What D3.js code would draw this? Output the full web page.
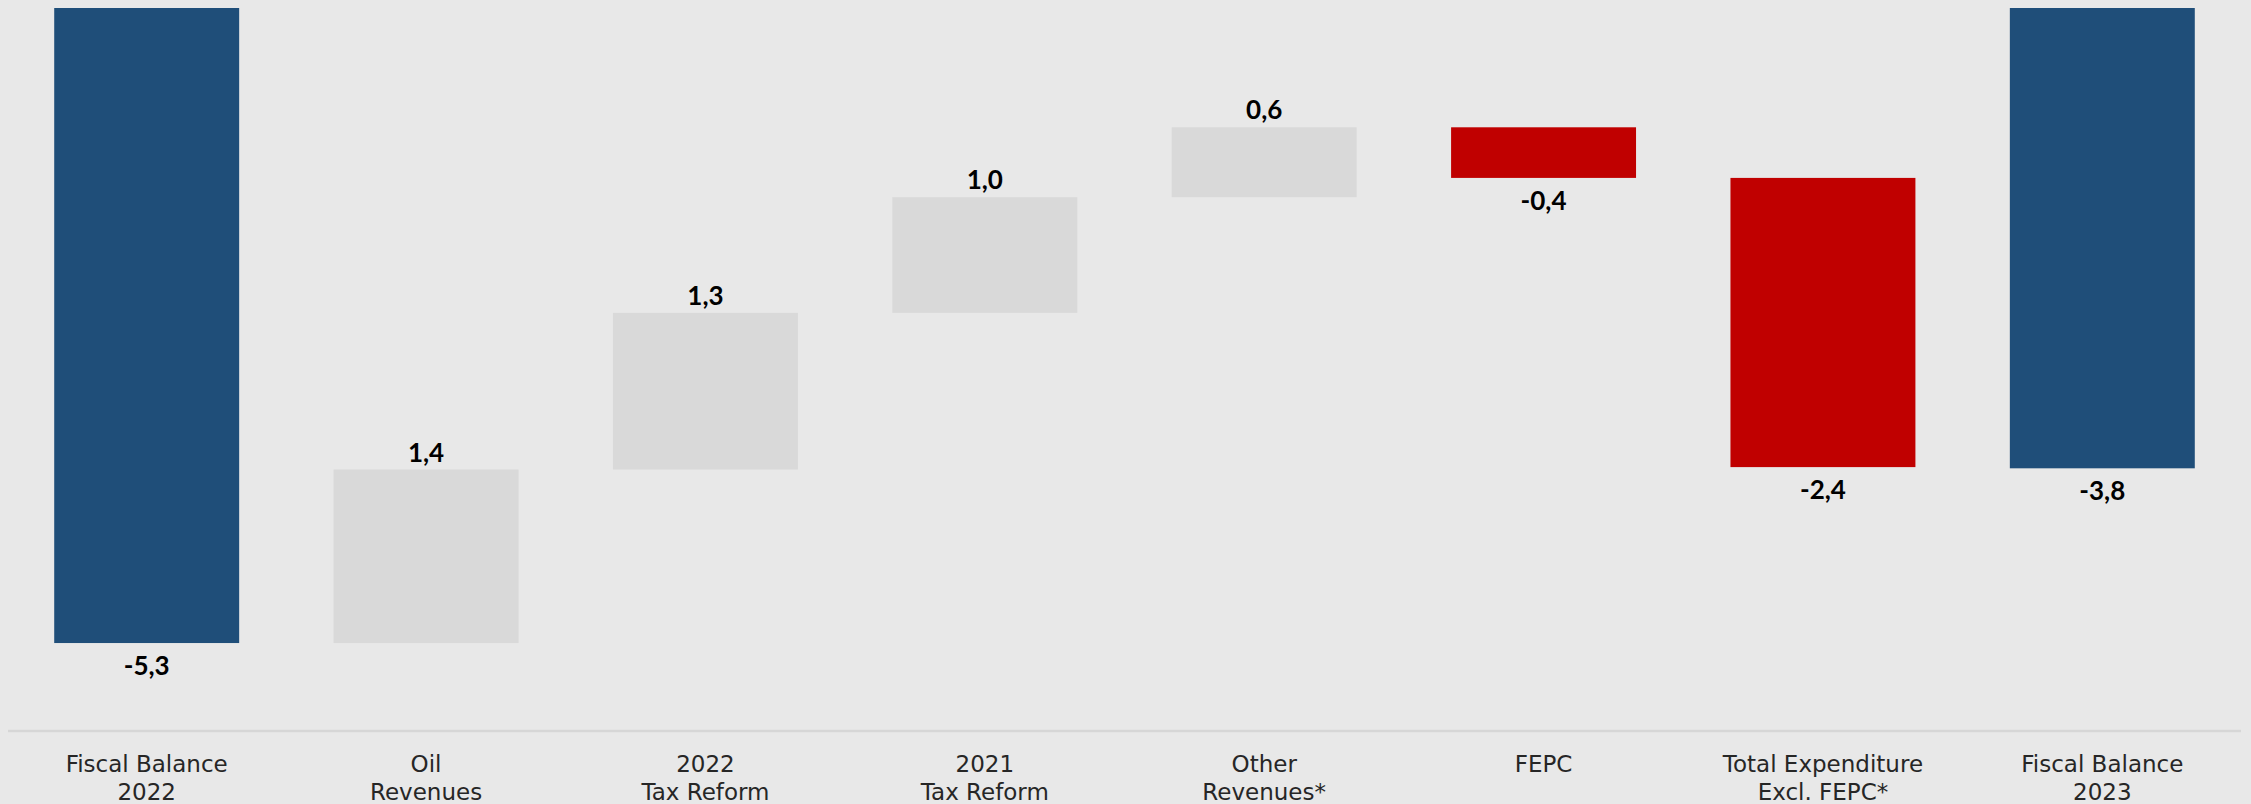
<!DOCTYPE html>
<html>
<head>
<meta charset="utf-8">
<script src="https://cdn.jsdelivr.net/npm/d3@7"></script>
<style>
  html, body { margin: 0; padding: 0; background: #e8e8e8; }
  svg { display: block; }
</style>
</head>
<body>
<svg id="chart" width="2251" height="804"></svg>
<script>
// ---- data ----
const categories = [
  ["Fiscal Balance", "2022"],
  ["Oil", "Revenues"],
  ["2022", "Tax Reform"],
  ["2021", "Tax Reform"],
  ["Other", "Revenues*"],
  ["FEPC", ""],
  ["Total Expenditure", "Excl. FEPC*"],
  ["Fiscal Balance", "2023"]
];
const values = [-5.27, 1.44, 1.30, 0.96, 0.58, -0.42, -2.40, -3.82];
const kinds = ["total", "delta", "delta", "delta", "delta", "delta", "delta", "total"];
const yTicks = [-6, 0];

// ---- layout ----
const W = 2251, H = 804;
const svg = d3.select("#chart");
svg.append("rect").attr("width", W).attr("height", H).attr("fill", "#e8e8e8");

const ids = categories.map((c, i) => i);
const x = d3.scaleBand().domain(ids).range([7, 2242]).paddingInner(0.338).paddingOuter(0.169);
const y = d3.scaleLinear().domain(d3.extent(yTicks)).range([731, 8]);

// compute waterfall segments
let run = 0;
const bars = values.map((v, i) => {
  let y0, y1;
  if (kinds[i] === "total") { y0 = 0; y1 = v; run = v; }
  else { y0 = run; y1 = run + v; run = y1; }
  return { i, v, y0, y1, kind: kinds[i] };
});
const color = d => d.kind === "total" ? "#1f4e79" : (d.v >= 0 ? "#d9d9d9" : "#c00000");

// axis line (bottom)
const xAxis = d3.axisBottom(x).tickSize(0).tickFormat("");
const ax = svg.append("g").attr("transform", `translate(0,${y(yTicks[0])})`).call(xAxis);
ax.select(".domain").attr("stroke", "#d6d6d6").attr("stroke-width", 2.5)
  .attr("d", `M8,0H2241`);

// bars
svg.append("g").selectAll("rect").data(bars).join("rect")
  .attr("x", d => x(d.i))
  .attr("width", x.bandwidth())
  .attr("y", d => y(Math.max(d.y0, d.y1)))
  .attr("height", d => Math.abs(y(d.y0) - y(d.y1)))
  .attr("fill", color);

// value labels
const fmt = v => v.toFixed(1).replace(".", ",");
svg.append("g").selectAll("text").data(bars).join("text")
  .attr("x", d => x(d.i) + x.bandwidth() / 2)
  .attr("y", d => {
    if (d.kind === "delta" && d.v >= 0) return y(Math.max(d.y0, d.y1)) - 8;
    return y(Math.min(d.y0, d.y1)) + 32;
  })
  .attr("text-anchor", "middle")
  .attr("font-family", "Lato, 'Open Sans', sans-serif")
  .attr("font-weight", 700)
  .attr("font-size", 26)
  .attr("fill", "#000")
  .text(d => fmt(d.v));

// category labels
const cat = svg.append("g").selectAll("text").data(categories).join("text")
  .attr("x", (d, i) => x(i) + x.bandwidth() / 2)
  .attr("y", 772)
  .attr("text-anchor", "middle")
  .attr("font-family", "'DejaVu Sans', sans-serif")
  .attr("font-size", 23)
  .attr("fill", "#262626");
cat.selectAll("tspan").data(d => d.filter(s => s !== "")).join("tspan")
  .attr("x", function() { return this.parentNode.getAttribute("x"); })
  .attr("dy", (d, j) => j === 0 ? 0 : 28)
  .text(d => d);
</script>
</body>
</html>
